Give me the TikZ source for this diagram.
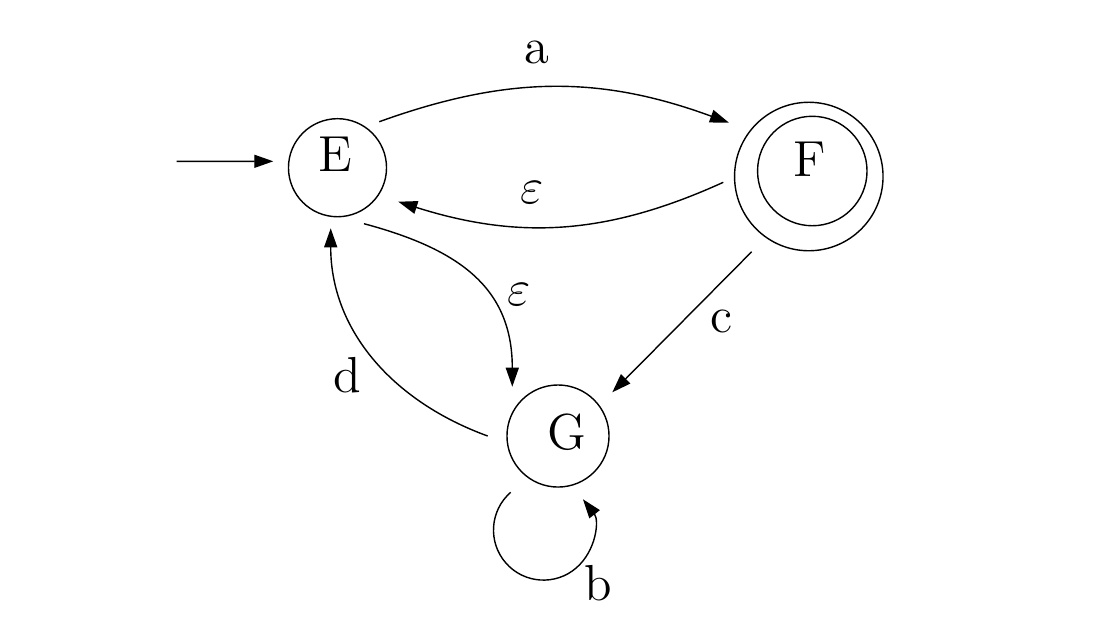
\documentclass[tikz,border=0pt]{standalone}
\usepackage{tikz}
\usetikzlibrary{arrows.meta}

\begin{document}
\begin{tikzpicture}[x=0.01cm,y=0.01cm,
	  every node/.style={font=\Large,inner sep=0pt},
	  state/.style={circle,draw,thin,outer sep=0pt,minimum size=#1},
	  to/.style={-{Triangle[length=1.9mm,width=1.3mm]},thin}]
	  \useasboundingbox (0,0) rectangle (1096,-632);

	  % states and their letters
	  \node[state=0.98cm] (E) at (337.5,-167.7) {};
	  \node[state=1.484cm] (F) at (808.8,-176.5) {};
	  \node[state=1.094cm] (Finner) at (812.3,-171) {};
	  \node[state=1.02cm] (G) at (558,-436) {};
	  \node (Etext) at (335.7,-154.2) {E};
	  \node (Ftext) at (809.7,-159) {F};
	  \node (Gtext) at (566.7,-432) {G};

	  % transitions
	  \coordinate (start) at (176.7,-161.3);
	  \draw[to] (start) -- ([shift={(-64.2,6.4)}]E.center);
	  \draw[to] ([shift={(41.8,46)}]E.center) to[bend left=20] ([shift={(-79.8,53.8)}]F.center);
	  \draw[to] ([shift={(-85.5,-5.8)}]F.center) to[bend left=21] ([shift={(60.8,-34)}]E.center);
	  \draw[to] ([shift={(26.5,-56)}]E.center) to[out=-15,in=90,looseness=1.15] ([shift={(-45.7,49.3)}]G.center);
	  \draw[to] ([shift={(-70.3,0)}]G.center) to[out=160,in=-90] ([shift={(-6.8,-60.6)}]E.center);
	  \draw[to] ([shift={(-57.1,-75.2)}]F.center) -- ([shift={(54.3,43.7)}]G.center);
	  \draw[to] ([shift={(-47.3,-56.3)}]G.center) arc[start angle=131,end angle=398,radius=0.5cm];

	  % labels
	  \node (la) at (536.5,-52.5) {a};
	  \node (leps1) at (532.5,-193) {$\varepsilon$};
	  \node (leps2) at (519,-295) {$\varepsilon$};
	  \node (ld) at (347,-375) {d};
	  \node (lc) at (721.7,-321) {c};
	  \node (lb) at (598.7,-583) {b};

\end{tikzpicture}
\end{document}
